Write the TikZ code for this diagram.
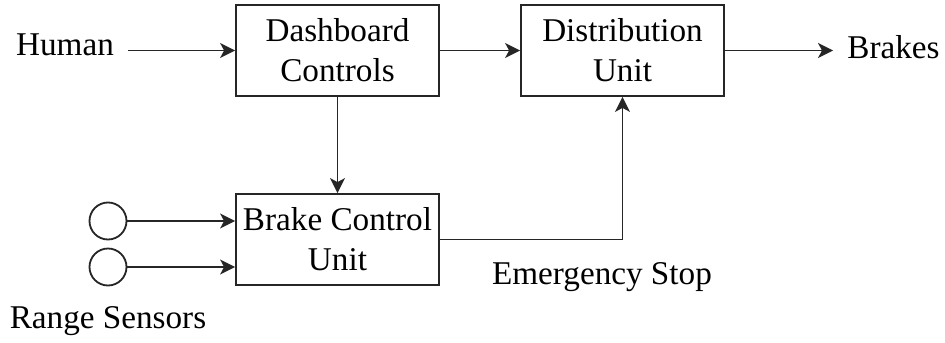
\documentclass[tikz,border=0pt]{standalone}
\usepackage{fontspec}
\setmainfont{Liberation Serif}
\usetikzlibrary{arrows.meta}
\begin{document}
\begin{tikzpicture}[x=0.5pt,y=-0.5pt,
  every node/.style={font=\fontsize{16.6}{20}\selectfont, text=black},
  blk/.style={draw=black!85, line width=0.9pt, minimum width=101.5pt, minimum height=45.5pt, inner sep=0pt, align=center},
  lbl/.style={inner sep=0pt, anchor=base},
  sensor/.style={draw=black!85, line width=0.9pt, circle, minimum size=18.5pt, inner sep=0pt},
  arr/.style={draw=black!85, line width=0.9pt, -{Stealth[length=7.5pt,width=7.5pt,inset=2pt]}},
  ln/.style={draw=black!85, line width=0.9pt}]
\useasboundingbox (0,0) rectangle (945,342);
\node[blk] (dash) at (337.5,50.5) {Dashboard\\Controls};
\node[blk] (dist) at (622.5,50.5) {Distribution\\Unit};
\node[blk] (bcu) at (337.5,239.5) {Brake Control\\Unit};
\node[lbl] (hum) at (65,56) {Human};
\node[lbl] (brk) at (893.5,59) {Brakes};
\node[lbl] (emg) at (602,284) {Emergency Stop};
\node[lbl] (rng) at (108,328) {Range Sensors};
\node[sensor] (s1) at (108,221) {};
\node[sensor] (s2) at (108,267) {};
\draw[arr] ([xshift=7pt]dash.west -| hum.east) -- (dash.west);
\draw[arr] (dash.east) -- (dist.west);
\draw[arr] (dist.east) -- ([xshift=-7pt]dist.east -| brk.west);
\draw[arr] (dash.south) -- (bcu.north);
\draw[arr] (s1.east) -- (s1.east -| bcu.west);
\draw[arr] (s2.east) -- (s2.east -| bcu.west);
\draw[arr] (bcu.east) -| (dist.south);
\end{tikzpicture}
\end{document}
